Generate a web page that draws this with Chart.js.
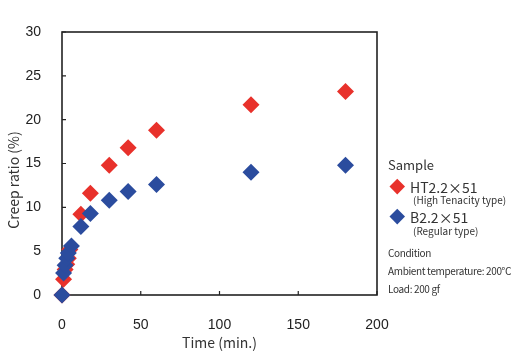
<!DOCTYPE html>
<html>
<head>
<meta charset="utf-8">
<script src="https://cdn.jsdelivr.net/npm/chart.js@4.4.1/dist/chart.umd.min.js"></script>
<style>
    html, body { margin: 0; padding: 0; background: #fff; }
    #wrap { position: relative; width: 519px; height: 364px; }
    #wrap canvas { position: absolute; left: 0; top: 0; }
    .lg { position: absolute; font-family: 'Noto Sans CJK JP', 'Noto Sans', sans-serif; color: #333; white-space: nowrap; line-height: 1; }
    .cond { font-size: 10px; letter-spacing: -0.35px; }
    .dia { position: absolute; width: 10.5px; height: 10.5px; transform: rotate(45deg); }
</style>
</head>
<body>
<div id="wrap">
    <canvas id="creepChart" width="519" height="364"></canvas>
    <div class="lg" style="left:388px;top:158px;font-size:13px;">Sample</div>
    <div class="dia" style="left:392px;top:181px;background:#e8312b;"></div>
    <div class="lg" style="left:410px;top:180px;font-size:14px;">HT2.2×51</div>
    <div class="lg" style="left:413px;top:195px;font-size:10px;">(High Tenacity type)</div>
    <div class="dia" style="left:392px;top:211px;background:#2b4c9e;"></div>
    <div class="lg" style="left:410px;top:210px;font-size:14px;">B2.2×51</div>
    <div class="lg" style="left:413px;top:226px;font-size:10px;">(Regular type)</div>
    <div class="lg cond" style="left:388px;top:248px;">Condition</div>
    <div class="lg cond" style="left:388px;top:266px;">Ambient temperature: 200℃</div>
    <div class="lg cond" style="left:388px;top:284px;">Load: 200 gf</div>
</div>
<script>
// ─── DONNÉES ──────────────────────────────────────────────
const timeHT  = [0, 1, 2, 3, 4, 5, 12, 18, 30, 42, 60, 120, 180];
const creepHT = [0, 1.8, 2.9, 3.5, 4.2, 5.2, 9.2, 11.6, 14.8, 16.8, 18.8, 21.7, 23.2];

const timeB  = [0, 1, 2, 3, 4, 6, 12, 18, 30, 42, 60, 120, 180];
const creepB = [0, 2.5, 3.4, 4.2, 4.8, 5.6, 7.8, 9.3, 10.8, 11.8, 12.6, 14.0, 14.8];

const xTicks = [0, 50, 100, 150, 200];
const yTicks = [0, 5, 10, 15, 20, 25, 30];

const toPoints = (xs, ys) => xs.map((x, i) => ({ x: x, y: ys[i] }));

// cadre + graduations vers l'intérieur + titre Y
const framePlugin = {
    id: 'frame',
    beforeDatasetsDraw(chart) {
        const { ctx, chartArea: a, scales } = chart;
        ctx.save();
        ctx.strokeStyle = '#222';
        ctx.lineWidth = 1.6;
        ctx.strokeRect(a.left, a.top, a.right - a.left, a.bottom - a.top);
        ctx.lineWidth = 1.2;
        ctx.beginPath();
        yTicks.forEach(v => {
            const y = scales.y.getPixelForValue(v);
            ctx.moveTo(a.left, y);
            ctx.lineTo(a.left + 4, y);
        });
        xTicks.forEach(v => {
            const x = scales.x.getPixelForValue(v);
            ctx.moveTo(x, a.bottom);
            ctx.lineTo(x, a.bottom - 4);
        });
        ctx.stroke();

        ctx.fillStyle = '#333';
        ctx.font = "14px 'Noto Sans CJK JP', sans-serif";
        ctx.textAlign = 'center';
        ctx.textBaseline = 'middle';
        ctx.translate(14, 180);
        ctx.rotate(-Math.PI / 2);
        ctx.fillText('Creep ratio (%)', 0, 0);
        ctx.restore();
    }
};

new Chart(document.getElementById('creepChart'), {
    type: 'scatter',
    data: {
        datasets: [{
            label: 'B2.2×51',
            data: toPoints(timeB, creepB),
            backgroundColor: '#2b4c9e',
            borderWidth: 0,
            pointStyle: 'rectRot',
            pointRadius: 8.5,
            clip: false
        }, {
            label: 'HT2.2×51',
            data: toPoints(timeHT, creepHT),
            backgroundColor: '#e8312b',
            borderWidth: 0,
            pointStyle: 'rectRot',
            pointRadius: 8.5,
            clip: false
        }]
    },
    options: {
        responsive: false,
        animation: false,
        layout: { padding: { top: 32, right: 142, left: 0, bottom: 0 } },
        plugins: { legend: { display: false }, tooltip: { enabled: false } },
        scales: {
            x: {
                type: 'linear',
                min: 0, max: 200,
                afterBuildTicks: s => { s.ticks = xTicks.map(v => ({ value: v })); },
                afterFit: s => { s.height = 69; },
                grid: { display: false },
                border: { display: false },
                ticks: { color: '#222', padding: 14, maxRotation: 0, font: { size: 14, family: "'Liberation Sans', Arial, sans-serif" } },
                title: {
                    display: true, text: 'Time (min.)', color: '#333',
                    font: { size: 14, family: "'Noto Sans CJK JP', sans-serif" },
                    padding: { top: 4, bottom: 13 }
                }
            },
            y: {
                type: 'linear',
                min: 0, max: 30,
                afterBuildTicks: s => { s.ticks = yTicks.map(v => ({ value: v })); },
                afterFit: s => { s.width = 62; },
                grid: { display: false },
                border: { display: false },
                ticks: { color: '#222', padding: 13, font: { size: 14, family: "'Liberation Sans', Arial, sans-serif" } }
            }
        }
    },
    plugins: [framePlugin]
});
</script>
</body>
</html>
